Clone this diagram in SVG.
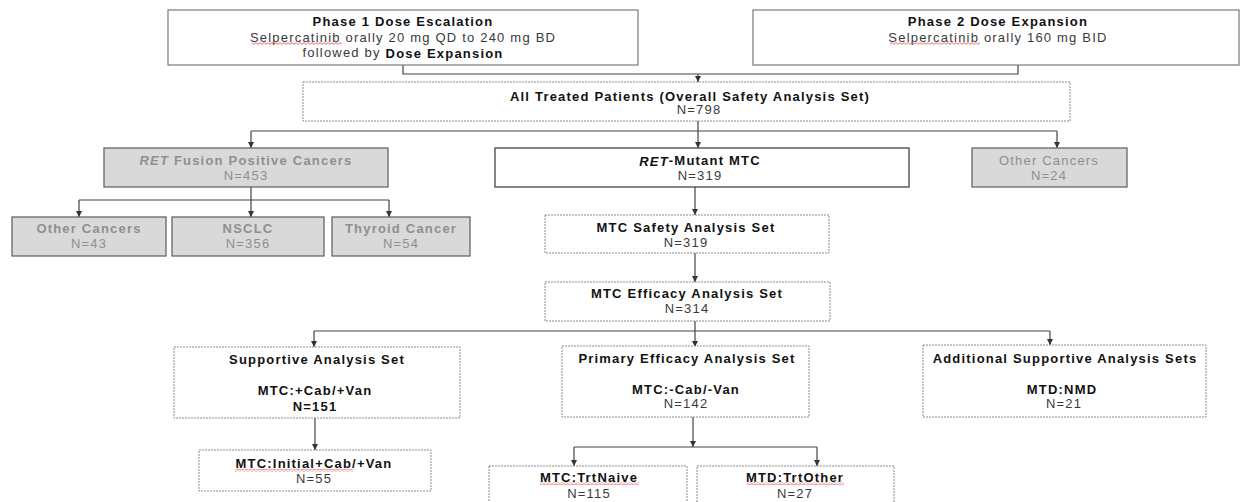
<svg xmlns="http://www.w3.org/2000/svg" width="1241" height="502" viewBox="0 0 1241 502">
<style>
text{font-family:"Liberation Sans",Arial,sans-serif;font-size:13px;letter-spacing:1.2px;text-anchor:middle;dominant-baseline:central;fill:#3a3a3a}
.b{font-weight:bold;fill:#111}
.g{fill:#8f8f8f}
.gb{fill:#8f8f8f;font-weight:bold}
.i{font-style:italic}
.solid{fill:#fff;stroke:#7a7a7a;stroke-width:1.2}
.dark{fill:#fff;stroke:#444;stroke-width:1.3}
.gray{fill:#d9d9d9;stroke:#666;stroke-width:1.3}
.dash{fill:#fff;stroke:#8c8c8c;stroke-width:1;stroke-dasharray:2 1}
.conn line,.conn polyline{stroke:#444;stroke-width:1.2;fill:none}
.sq{fill:url(#squig)}
</style>
<defs>
<marker id="ah" markerUnits="userSpaceOnUse" markerWidth="6" markerHeight="6" refX="6" refY="3" orient="auto">
<path d="M0,0 L6,3 L0,6 z" fill="#333"/>
</marker>
<pattern id="squig" width="4" height="3" patternUnits="userSpaceOnUse">
<path d="M0,0.6 L2,2.4 L4,0.6" stroke="#e04848" stroke-width="0.8" fill="none"/>
</pattern>
</defs>

<g id="connectors" class="conn">
<polyline points="403,65 403,74 1018,74 1018,65"/>
<line x1="698" y1="74" x2="698" y2="82" marker-end="url(#ah)"/>
<line x1="698" y1="121" x2="698" y2="148" marker-end="url(#ah)"/>
<line x1="251" y1="131" x2="1057" y2="131"/>
<line x1="251" y1="131" x2="251" y2="148" marker-end="url(#ah)"/>
<line x1="1057" y1="131" x2="1057" y2="148" marker-end="url(#ah)"/>
<line x1="251" y1="187" x2="251" y2="217" marker-end="url(#ah)"/>
<line x1="79" y1="200" x2="389" y2="200"/>
<line x1="79" y1="200" x2="79" y2="217" marker-end="url(#ah)"/>
<line x1="389" y1="200" x2="389" y2="217" marker-end="url(#ah)"/>
<line x1="695" y1="187" x2="695" y2="215" marker-end="url(#ah)"/>
<line x1="695" y1="253" x2="695" y2="282" marker-end="url(#ah)"/>
<line x1="695" y1="321" x2="695" y2="347" marker-end="url(#ah)"/>
<line x1="314" y1="331" x2="1050" y2="331"/>
<line x1="314" y1="331" x2="314" y2="347" marker-end="url(#ah)"/>
<line x1="1050" y1="331" x2="1050" y2="345" marker-end="url(#ah)"/>
<line x1="315" y1="418" x2="315" y2="450" marker-end="url(#ah)"/>
<line x1="693" y1="417" x2="693" y2="447" marker-end="url(#ah)"/>
<line x1="574" y1="447" x2="817" y2="447"/>
<line x1="574" y1="447" x2="574" y2="466" marker-end="url(#ah)"/>
<line x1="817" y1="447" x2="817" y2="466" marker-end="url(#ah)"/>
</g>

<g id="phase1">
<rect class="solid" x="168" y="10" width="470" height="55"/>
<text class="b" x="403" y="21.5">Phase 1 Dose Escalation</text>
<text x="403" y="37">Selpercatinib orally 20 mg QD to 240 mg BD</text>
<rect class="sq" x="252" y="42" width="90" height="3"/>
<text x="403" y="52.5">followed by <tspan class="b">Dose Expansion</tspan></text>
</g>

<g id="phase2">
<rect class="solid" x="753" y="10" width="486" height="55"/>
<text class="b" x="998" y="21.5">Phase 2 Dose Expansion</text>
<text x="998" y="37">Selpercatinib orally 160 mg BID</text>
<rect class="sq" x="890" y="42" width="90" height="3"/>
</g>

<g id="all-treated">
<rect class="dash" x="303" y="82" width="767" height="39"/>
<text class="b" x="690" y="96">All Treated Patients (Overall Safety Analysis Set)</text>
<text x="699" y="109.5">N=798</text>
</g>

<g id="ret-fusion">
<rect class="gray" x="104" y="148" width="284" height="39"/>
<text class="gb" x="246" y="160"><tspan class="i">RET</tspan> Fusion Positive Cancers</text>
<text class="g" x="246" y="175">N=453</text>
</g>

<g id="ret-mutant">
<rect class="dark" x="495" y="148" width="414" height="39"/>
<text class="b" x="700" y="160.5"><tspan class="i">RET</tspan>-Mutant MTC</text>
<text x="700" y="175">N=319</text>
</g>

<g id="other-cancers-right">
<rect class="gray" x="972" y="148" width="155" height="39"/>
<text class="g" x="1049" y="160">Other Cancers</text>
<text class="g" x="1049" y="175">N=24</text>
</g>

<g id="other-cancers-left">
<rect class="gray" x="12" y="217" width="154" height="39"/>
<text class="gb" x="89" y="228">Other Cancers</text>
<text class="g" x="89" y="243">N=43</text>
</g>

<g id="nsclc">
<rect class="gray" x="172" y="217" width="152" height="39"/>
<text class="gb" x="248" y="228">NSCLC</text>
<text class="g" x="248" y="243">N=356</text>
</g>

<g id="thyroid">
<rect class="gray" x="332" y="217" width="138" height="39"/>
<text class="gb" x="401" y="228">Thyroid Cancer</text>
<text class="g" x="401" y="243">N=54</text>
</g>

<g id="mtc-safety">
<rect class="dash" x="545" y="215" width="284" height="38"/>
<text class="b" x="686" y="227">MTC Safety Analysis Set</text>
<text x="686" y="242">N=319</text>
</g>

<g id="mtc-efficacy">
<rect class="dash" x="545" y="282" width="285" height="39"/>
<text class="b" x="687" y="293">MTC Efficacy Analysis Set</text>
<text x="687" y="308">N=314</text>
</g>

<g id="supportive">
<rect class="dash" x="174" y="347" width="286" height="71"/>
<text class="b" x="317" y="359">Supportive Analysis Set</text>
<text class="b" x="315" y="390">MTC:+Cab/+Van</text>
<text class="b" x="315" y="406">N=151</text>
</g>

<g id="primary">
<rect class="dash" x="562" y="346" width="247" height="71"/>
<text class="b" x="687" y="358">Primary Efficacy Analysis Set</text>
<text class="b" x="686" y="389">MTC:-Cab/-Van</text>
<text x="686" y="403">N=142</text>
</g>

<g id="additional">
<rect class="dash" x="923" y="345" width="283" height="72"/>
<text class="b" x="1065" y="358">Additional Supportive Analysis Sets</text>
<text class="b" x="1062" y="389">MTD:NMD</text>
<text x="1064" y="403">N=21</text>
</g>

<g id="initial">
<rect class="dash" x="199" y="450" width="232" height="41"/>
<text class="b" x="314" y="463">MTC:Initial+Cab/+Van</text>
<rect class="sq" x="235" y="469" width="118" height="3"/>
<text x="314" y="478">N=55</text>
</g>

<g id="trtnaive">
<rect class="dash" x="489" y="466" width="198" height="40"/>
<text class="b" x="589" y="477">MTC:TrtNaive</text>
<rect class="sq" x="540" y="482" width="99" height="3"/>
<text x="589" y="493">N=115</text>
</g>

<g id="trtother">
<rect class="dash" x="697" y="466" width="197" height="40"/>
<text class="b" x="795" y="477">MTD:TrtOther</text>
<rect class="sq" x="747" y="482" width="97" height="3"/>
<text x="795" y="493">N=27</text>
</g>
</svg>
